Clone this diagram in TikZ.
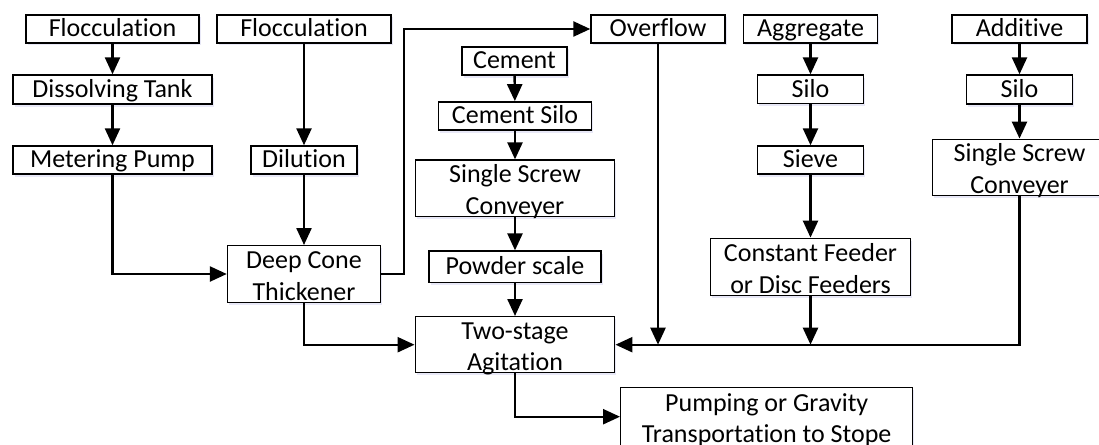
\documentclass[tikz,border=0pt]{standalone}
\usepackage{fontspec}
\setmainfont{Carlito}[Ligatures=CommonOff]
\usetikzlibrary{arrows.meta,shadows}
\begin{document}
\begin{tikzpicture}[x=1pt,y=-1pt,
  box/.style={draw, line width=1.4pt, fill=white, inner sep=0pt, align=center,
    font=\fontsize{26}{31.7}\selectfont, text height=15.4pt, text depth=0pt,
    drop shadow={shadow xshift=1.5pt, shadow yshift=-2.5pt, fill=blue!50!gray, opacity=0.12}},
  two/.style={text height=52pt, text depth=0pt},
  conn/.style={line width=2.4pt, -{Triangle[length=17pt,width=15pt]}}]
\useasboundingbox (0,0) rectangle (1099,444);
% left column
\node[box, minimum width=173pt, minimum height=28pt] (floc1) at (112.5,29) {Flocculation};
\node[box, minimum width=199pt, minimum height=29pt] (dtank) at (112.5,89.5) {Dissolving Tank};
\node[box, minimum width=199pt, minimum height=28pt] (meter) at (112.5,160) {Metering Pump};
% second column
\node[box, minimum width=174pt, minimum height=28pt] (floc2) at (304,29) {Flocculation};
\node[box, minimum width=106pt, minimum height=28pt] (dil) at (304,160) {Dilution};
\node[box, two, minimum width=153pt, minimum height=56.6pt] (deep) at (304,274) {Deep Cone\\Thickener};
% cement column
\node[box, minimum width=105pt, minimum height=28.3pt] (cem) at (514.5,61) {Cement};
\node[box, minimum width=152.7pt, minimum height=28.3pt] (csilo) at (515,116) {Cement Silo};
\node[box, two, minimum width=198.6pt, minimum height=56.7pt] (conv1) at (515,188.4) {Single Screw\\Conveyer};
\node[box, minimum width=172pt, minimum height=31.3pt] (powder) at (515,266.7) {Powder scale};
\node[box, two, minimum width=199.5pt, minimum height=56pt] (two) at (515,344.7) {Two-stage\\Agitation};
\node[box, two, minimum width=292pt, minimum height=58pt] (pump) at (766.7,416.7) {Pumping or Gravity\\Transportation to Stope};
% overflow
\node[box, minimum width=134pt, minimum height=28pt] (over) at (658,29) {Overflow};
% aggregate column
\node[box, minimum width=134.4pt, minimum height=28pt] (agg) at (810.5,29) {Aggregate};
\node[box, minimum width=105.6pt, minimum height=28.7pt] (silo1) at (810.5,89.4) {Silo};
\node[box, minimum width=105.6pt, minimum height=28pt] (sieve) at (810.5,160) {Sieve};
\node[box, two, minimum width=200pt, minimum height=57.4pt] (feed) at (810.5,267) {Constant Feeder\\or Disc Feeders};
% additive column
\node[box, minimum width=135pt, minimum height=28pt] (add) at (1019.5,29) {Additive};
\node[box, minimum width=106pt, minimum height=29pt] (silo2) at (1019.5,89.5) {Silo};
\node[box, two, minimum width=174pt, minimum height=56.4pt] (conv2) at (1019.5,167.5) {Single Screw\\Conveyer};
\coordinate (ov) at (404,0);
% connectors
\draw[conn] (floc1) -- (dtank);
\draw[conn] (dtank) -- (meter);
\draw[conn] (meter.south) |- (deep.west);
\draw[conn] (floc2) -- (dil);
\draw[conn] (dil) -- (deep);
\draw[conn] (deep.east) -- (ov |- deep.east) -- (ov |- over.west) -- (over.west);
\draw[conn] (deep.south) |- (two.west);
\draw[conn] (cem) -- (csilo);
\draw[conn] (csilo) -- (conv1);
\draw[conn] (conv1) -- (powder);
\draw[conn] (powder) -- (two);
\draw[conn] (two.south) |- (pump.west);
\draw[conn] (over.south) -- (over.south |- two.east);
\draw[conn] (agg) -- (silo1);
\draw[conn] (silo1) -- (sieve);
\draw[conn] (sieve) -- (feed);
\draw[conn] (feed.south) -- (feed.south |- two.east);
\draw[conn] (add) -- (silo2);
\draw[conn] (silo2) -- (conv2);
\draw[conn] (conv2.south) |- (two.east);
\end{tikzpicture}
\end{document}
